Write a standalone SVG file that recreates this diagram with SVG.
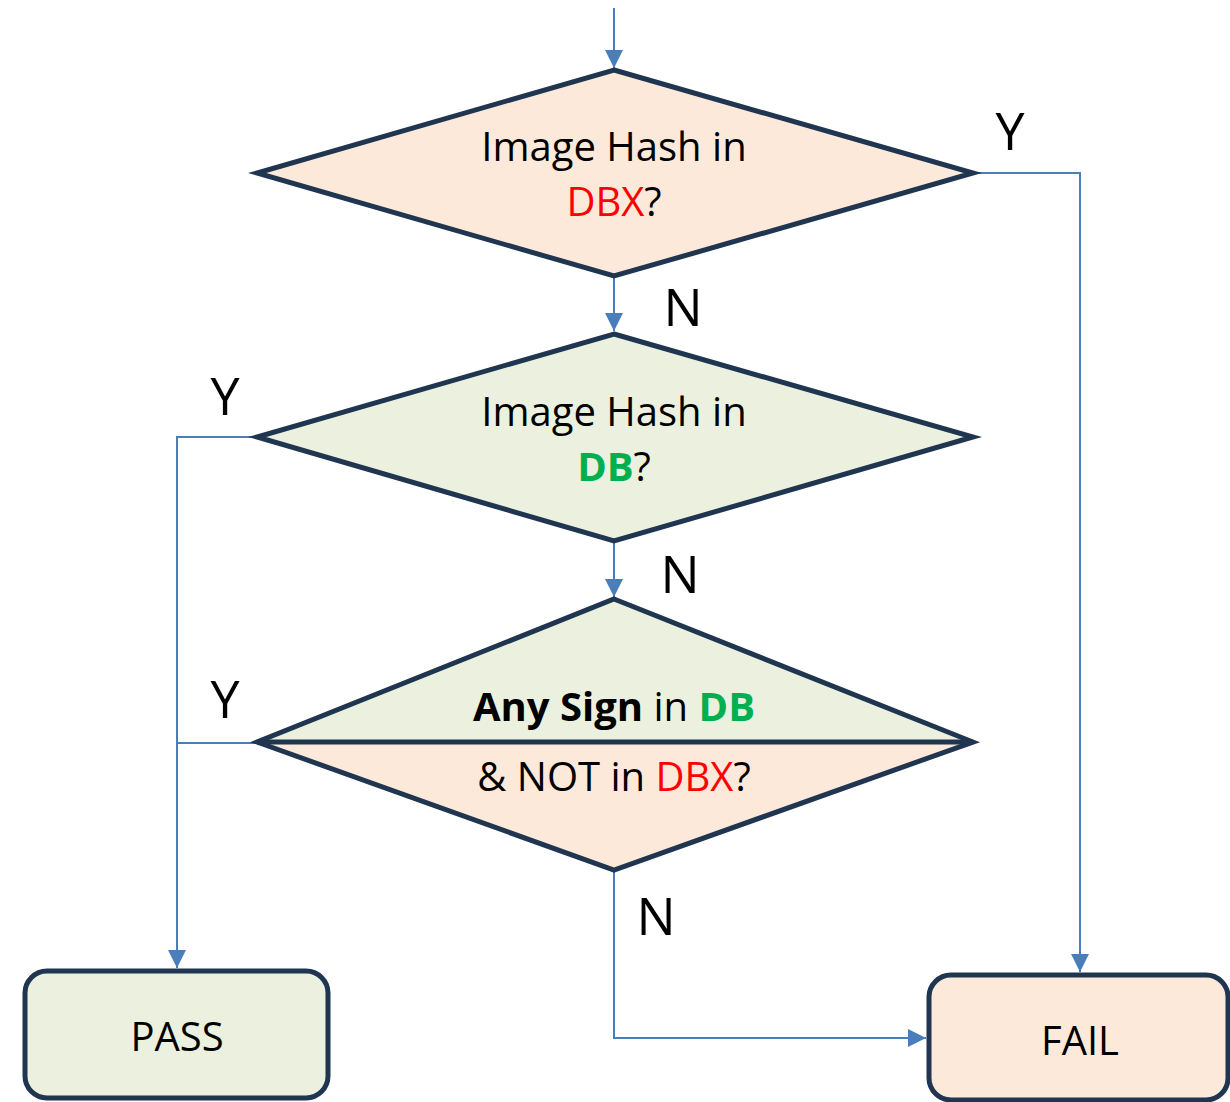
<svg xmlns="http://www.w3.org/2000/svg" width="1230" height="1102" viewBox="0 0 1230 1102">
<defs>
<style>
.shape{stroke:#1f3550;stroke-width:5;stroke-linejoin:miter}
.peach{fill:#fde9d9}
.green{fill:#ebf1de}
.conn{fill:none;stroke:#4a7ebb;stroke-width:2}
.t{font-family:"Open Sans","Noto Sans",sans-serif;font-size:40px;fill:#000;text-anchor:middle}
.lbl{font-family:"Open Sans","Noto Sans",sans-serif;font-size:52px;fill:#000;text-anchor:middle}
.red{fill:#ff0000}
.grn{fill:#00b050;font-weight:bold}
</style>
<marker id="a" viewBox="0 0 10 10" refX="10" refY="5" markerWidth="9" markerHeight="9" orient="auto">
<path d="M0,0 L10,5 L0,10 z" fill="#4a7ebb"/>
</marker>
</defs>
<g id="connectors">
<path class="conn" d="M614,8 V68" marker-end="url(#a)"/>
<path class="conn" d="M973,173 H1080 V972" marker-end="url(#a)"/>
<path class="conn" d="M614,276 V331" marker-end="url(#a)"/>
<path class="conn" d="M257,437 H177 V968" marker-end="url(#a)"/>
<path class="conn" d="M614,541 V597" marker-end="url(#a)"/>
<path class="conn" d="M257,743 H177"/>
<path class="conn" d="M614,870 V1038 H926" marker-end="url(#a)"/>
</g>
<g id="d1">
<polygon class="shape peach" points="614,70 973,173 614,276 257,173"/>
<text class="t" x="614" y="161">Image Hash in</text>
<text class="t" x="614" y="216"><tspan class="red">DBX</tspan>?</text>
</g>
<g id="d2">
<polygon class="shape green" points="614,334 973,437 614,541 257,437"/>
<text class="t" x="614" y="426">Image Hash in</text>
<text class="t" x="614" y="481"><tspan class="grn">DB</tspan>?</text>
</g>
<g id="d3">
<polygon class="green" points="614,599 973,742 257,742"/>
<polygon class="peach" points="257,742 973,742 614,870"/>
<polygon class="shape" fill="none" points="614,599 973,742 614,870 257,742"/>
<line class="shape" x1="257" y1="742" x2="973" y2="742"/>
<text class="t" x="614" y="721"><tspan font-weight="bold">Any Sign</tspan> in <tspan class="grn">DB</tspan></text>
<text class="t" x="614" y="791">&amp; NOT in <tspan class="red">DBX</tspan>?</text>
</g>
<g id="pass">
<rect class="shape green" x="25" y="971" width="303" height="127" rx="22"/>
<text class="t" x="177" y="1051">PASS</text>
</g>
<g id="fail">
<rect class="shape peach" x="929" y="975" width="299" height="125" rx="22"/>
<text class="t" x="1080" y="1055">FAIL</text>
</g>
<g id="labels">
<text class="lbl" x="1010" y="150">Y</text>
<text class="lbl" x="683" y="326">N</text>
<text class="lbl" x="225" y="415">Y</text>
<text class="lbl" x="680" y="593">N</text>
<text class="lbl" x="225" y="718">Y</text>
<text class="lbl" x="656" y="935">N</text>
</g>
</svg>
